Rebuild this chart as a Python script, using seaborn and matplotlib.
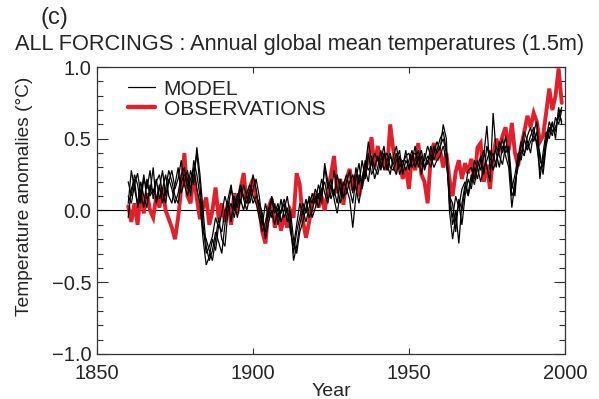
import numpy as np
import pandas as pd
import matplotlib
matplotlib.use('Agg')
import matplotlib.pyplot as plt
import seaborn as sns
from matplotlib.lines import Line2D
from matplotlib.ticker import MultipleLocator

years = list(range(1860, 2000))

observations = [
    0.03, -0.08, 0.05, -0.10, 0.14, -0.02, 0.12, 0.00, -0.05, 0.10,
    0.02, 0.16, 0.00, -0.06, -0.12, -0.20, -0.05, 0.15, 0.40, 0.10,
    0.05, 0.25, 0.08, -0.06, 0.02, 0.09, -0.10, 0.00, 0.16, -0.06,
    0.05, -0.08, 0.06, -0.10, 0.12, -0.02, 0.15, 0.26, 0.05, 0.16,
    0.22, 0.08, 0.02, -0.15, -0.23, 0.02, 0.08, -0.12, -0.02, -0.14,
    -0.04, -0.12, 0.00, -0.05, 0.26, 0.18, -0.07, -0.19, -0.08, 0.04,
    0.12, 0.02, 0.10, 0.00, 0.14, 0.25, 0.38, 0.12, 0.22, 0.04,
    0.22, 0.29, 0.14, 0.25, 0.10, 0.20, 0.28, 0.36, 0.51, 0.30,
    0.45, 0.30, 0.40, 0.28, 0.60, 0.42, 0.30, 0.36, 0.22, 0.30,
    0.15, 0.39, 0.28, 0.47, 0.25, 0.20, 0.05, 0.37, 0.47, 0.35,
    0.42, 0.30, 0.40, 0.22, 0.10, 0.27, 0.35, 0.22, 0.33, 0.26,
    0.36, 0.21, 0.44, 0.47, 0.20, 0.32, 0.15, 0.38, 0.50, 0.43,
    0.52, 0.58, 0.42, 0.61, 0.40, 0.31, 0.45, 0.55, 0.66, 0.58,
    0.68, 0.62, 0.48, 0.52, 0.68, 0.85, 0.70, 0.80, 0.99, 0.75,
]

model_a = [
    0.05, 0.28, 0.15, 0.05, 0.20, 0.10, 0.02, 0.18, 0.12, 0.22,
    0.08, 0.15, 0.25, 0.10, 0.05, 0.18, 0.30, 0.12, 0.20, 0.28,
    0.15, 0.25, 0.40, 0.18, -0.10, -0.30, -0.25, -0.18, -0.05, -0.12,
    -0.02, 0.10, 0.02, 0.15, 0.05, -0.05, 0.08, 0.00, 0.12, 0.18,
    0.10, 0.05, -0.05, -0.15, -0.08, 0.02, -0.05, 0.05, -0.10, 0.00,
    0.08, -0.02, -0.10, -0.30, -0.15, -0.05, 0.05, -0.02, 0.10, 0.05,
    0.15, 0.08, 0.22, 0.12, 0.05, 0.18, 0.10, 0.25, 0.15, 0.08,
    0.20, 0.28, 0.12, 0.30, 0.18, 0.35, 0.22, 0.40, 0.25, 0.30,
    0.38, 0.28, 0.40, 0.32, 0.25, 0.38, 0.45, 0.30, 0.35, 0.28,
    0.35, 0.42, 0.30, 0.38, 0.25, 0.40, 0.32, 0.45, 0.35, 0.42,
    0.50, 0.55, 0.42, 0.05, -0.05, 0.10, 0.02, 0.15, 0.20, 0.12,
    0.25, 0.18, 0.30, 0.38, 0.25, 0.45, 0.35, 0.40, 0.30, 0.48,
    0.40, 0.52, 0.35, 0.15, 0.25, 0.38, 0.45, 0.55, 0.48, 0.40,
    0.55, 0.62, 0.35, 0.30, 0.48, 0.58, 0.52, 0.65, 0.60, 0.70,
]

model_b = [
    0.20, 0.10, 0.25, 0.18, 0.05, 0.22, 0.15, 0.28, 0.08, 0.20,
    0.25, 0.12, 0.05, 0.20, 0.28, 0.15, 0.22, 0.35, 0.18, 0.10,
    0.22, 0.30, 0.15, 0.05, -0.20, -0.38, -0.32, -0.20, -0.28, -0.10,
    -0.15, 0.00, 0.05, -0.08, 0.10, 0.02, 0.15, 0.08, 0.00, 0.10,
    0.25, 0.15, 0.00, -0.10, 0.05, -0.05, 0.08, -0.02, 0.05, -0.08,
    0.00, 0.10, -0.05, -0.35, -0.25, -0.10, 0.00, -0.08, 0.02, 0.12,
    0.05, 0.18, 0.10, 0.30, 0.15, 0.22, 0.08, -0.02, 0.12, 0.20,
    0.15, 0.08, -0.12, 0.10, 0.25, 0.18, 0.30, 0.48, 0.35, 0.22,
    0.30, 0.42, 0.28, 0.35, 0.40, 0.30, 0.25, 0.38, 0.30, 0.42,
    0.28, 0.35, 0.45, 0.30, 0.38, 0.28, 0.35, 0.30, 0.40, 0.48,
    0.42, 0.60, 0.50, 0.00, -0.20, -0.05, 0.05, -0.10, 0.10, 0.22,
    0.15, 0.30, 0.22, 0.35, 0.42, 0.30, 0.20, 0.68, 0.40, 0.30,
    0.45, 0.38, 0.30, 0.02, 0.20, 0.30, 0.42, 0.38, 0.52, 0.58,
    0.48, 0.55, 0.22, 0.40, 0.55, 0.50, 0.60, 0.55, 0.68, 0.62,
]

model_c = [
    -0.05, 0.15, 0.22, 0.02, 0.10, 0.25, 0.08, 0.12, 0.30, 0.05,
    0.15, 0.28, 0.10, 0.22, 0.15, 0.05, 0.12, 0.25, 0.30, 0.15,
    0.28, 0.18, 0.44, 0.25, 0.00, -0.25, -0.35, -0.28, -0.15, -0.22,
    -0.30, -0.10, 0.08, 0.18, 0.00, 0.12, 0.05, 0.18, 0.10, 0.05,
    0.15, 0.22, 0.10, -0.08, -0.15, 0.00, 0.10, 0.02, -0.05, 0.08,
    -0.05, 0.02, -0.15, -0.25, -0.10, 0.05, -0.02, 0.08, -0.05, 0.00,
    0.10, 0.02, 0.15, 0.20, 0.08, 0.12, 0.28, 0.15, 0.05, 0.18,
    0.25, 0.15, 0.05, 0.22, 0.33, 0.15, 0.28, 0.20, 0.38, 0.30,
    0.25, 0.35, 0.45, 0.28, 0.38, 0.32, 0.40, 0.25, 0.32, 0.38,
    0.40, 0.30, 0.35, 0.42, 0.32, 0.35, 0.45, 0.38, 0.30, 0.35,
    0.38, 0.45, 0.35, 0.10, 0.05, -0.15, 0.08, 0.00, 0.15, 0.28,
    0.30, 0.22, 0.35, 0.28, 0.38, 0.59, 0.28, 0.35, 0.45, 0.38,
    0.32, 0.45, 0.42, 0.10, 0.15, 0.35, 0.48, 0.40, 0.45, 0.52,
    0.58, 0.45, 0.28, 0.35, 0.50, 0.62, 0.55, 0.58, 0.65, 0.72,
]

model_d = [
    0.10, 0.05, 0.18, 0.26, 0.12, 0.02, 0.22, 0.10, 0.15, 0.08,
    0.18, 0.05, 0.15, 0.28, 0.20, 0.10, 0.05, 0.20, 0.25, 0.22,
    0.10, 0.35, 0.25, 0.10, -0.15, -0.20, -0.28, -0.35, -0.20, -0.05,
    -0.20, -0.25, 0.00, 0.05, -0.05, 0.08, 0.18, 0.10, 0.05, 0.15,
    0.05, 0.10, 0.05, -0.02, -0.20, -0.08, 0.00, -0.10, 0.02, -0.02,
    0.05, -0.08, 0.00, -0.20, -0.30, -0.15, -0.08, 0.02, 0.08, -0.05,
    0.02, 0.12, 0.05, 0.33, 0.20, 0.08, 0.15, 0.05, 0.22, 0.10,
    0.12, 0.20, 0.25, 0.15, 0.05, 0.22, 0.35, 0.28, 0.32, 0.40,
    0.35, 0.30, 0.37, 0.40, 0.30, 0.28, 0.35, 0.42, 0.25, 0.35,
    0.30, 0.38, 0.40, 0.35, 0.42, 0.30, 0.38, 0.35, 0.45, 0.40,
    0.45, 0.50, 0.40, 0.15, -0.10, 0.00, -0.23, 0.05, 0.18, 0.10,
    0.20, 0.35, 0.30, 0.20, 0.30, 0.35, 0.42, 0.28, 0.35, 0.42,
    0.50, 0.40, 0.45, 0.20, 0.10, 0.40, 0.35, 0.50, 0.42, 0.48,
    0.52, 0.48, 0.40, 0.25, 0.45, 0.55, 0.62, 0.50, 0.72, 0.60,
]

y_ticks = [-1.0, -0.5, 0.0, 0.5, 1.0]
y_labels = ['\u22121.0', '\u22120.5', '0.0', '0.5', '1.0']
x_ticks = [1850, 1900, 1950, 2000]

runs = {'a': model_a, 'b': model_b, 'c': model_c, 'd': model_d}
model_df = pd.concat(
    [pd.DataFrame({'year': years, 'temp': v, 'run': k}) for k, v in runs.items()],
    ignore_index=True)
obs_df = pd.DataFrame({'year': years, 'temp': observations})

RED = '#e0202a'

sns.set_style('ticks')
plt.rcParams['font.family'] = ['Liberation Sans', 'DejaVu Sans']
plt.rcParams['lines.solid_joinstyle'] = 'miter'

fig = plt.figure(figsize=(5.99, 3.99), dpi=100)
ax = fig.add_axes([0.162, 0.113, 0.781, 0.719])

sns.lineplot(data=obs_df, x='year', y='temp', color=RED, lw=2.8, ax=ax, zorder=2)
sns.lineplot(data=model_df, x='year', y='temp', units='run', estimator=None,
             color='black', lw=0.9, ax=ax, zorder=3)
ax.axhline(0, color='black', lw=0.8, zorder=1)

ax.set_xlim(1850, 2000)
ax.set_ylim(-1.0, 1.0)
ax.set_xticks(x_ticks)
ax.set_yticks(y_ticks)
ax.set_yticklabels(y_labels)
ax.yaxis.set_minor_locator(MultipleLocator(0.1))
ax.tick_params(axis='both', which='both', direction='in', top=True, right=True,
               labelsize=14.5, width=0.8, color='#333333')
ax.tick_params(axis='y', which='major', length=8, pad=4)
ax.tick_params(axis='y', which='minor', length=4.5)
ax.tick_params(axis='x', which='major', length=4.5, pad=7)
for s in ax.spines.values():
    s.set_linewidth(0.9)
    s.set_color('#333333')

ax.set_xlabel('Year', fontsize=14, labelpad=0)
ax.set_ylabel('Temperature anomalies (\u00b0C)', fontsize=13.8)
ax.yaxis.set_label_coords(-0.137, 0.55)

handles = [Line2D([], [], color='black', lw=0.9),
           Line2D([], [], color=RED, lw=3.2)]
ax.legend(handles, ['MODEL', 'OBSERVATIONS'], loc='upper left',
          bbox_to_anchor=(0.04, 1.0), frameon=False, fontsize=15,
          handlelength=1.3, handletextpad=0.4, labelspacing=0.05,
          borderaxespad=0.2)

fig.text(0.067, 0.955, '(c)', fontsize=17, ha='left', va='center')
fig.text(0.5, 0.888, 'ALL FORCINGS : Annual global mean temperatures (1.5m)',
         fontsize=15.7, ha='center', va='center')

fig.savefig('out.png', dpi=100)
